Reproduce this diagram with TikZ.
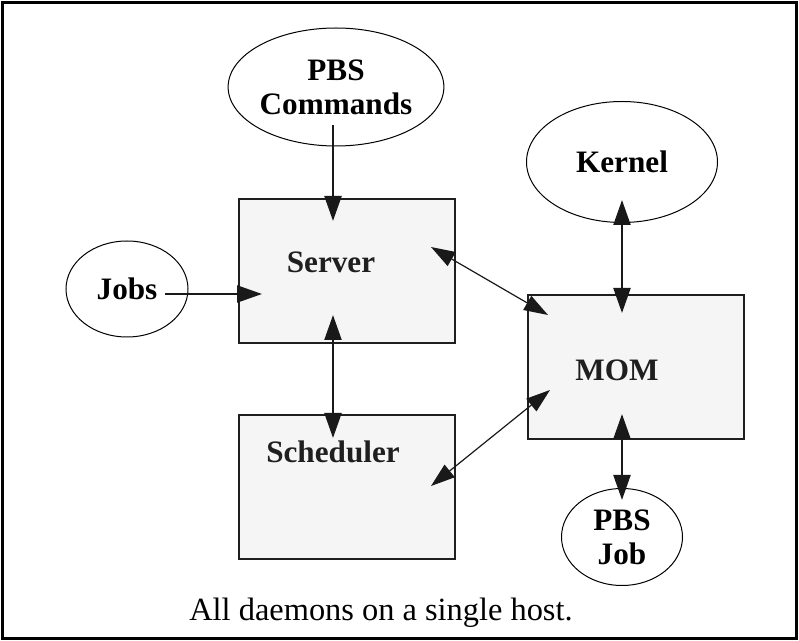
\documentclass[tikz,border=0pt]{standalone}
\usepackage{fontspec}
\setmainfont{Liberation Serif}
\usetikzlibrary{arrows.meta, shapes.geometric, positioning}

\begin{document}
\begin{tikzpicture}[x=0.5pt, y=-0.5pt,
  daemon/.style={draw=black!88, line width=1pt, fill=black!4, minimum width=108pt, minimum height=72pt, inner sep=0pt, anchor=north west},
  entity/.style={ellipse, draw, line width=0.5pt, inner sep=0pt, align=center, font=\fontsize{15.6}{17}\selectfont\bfseries},
  lbl/.style={font=\fontsize{15.6}{17}\selectfont\bfseries, text=black!88, inner sep=0pt},
  arr/.style={line width=1.1pt, draw=black!90, -{Triangle[length=12.5pt, width=8.5pt]}},
  biarr/.style={line width=1.1pt, draw=black!90, {Triangle[length=12.5pt, width=8.5pt]}-{Triangle[length=12.5pt, width=8.5pt]}},
  thinarr/.style={line width=0.6pt, draw=black!90, {Triangle[length=12pt, width=8pt]}-{Triangle[length=12pt, width=8pt]}}]
\useasboundingbox (0,0) rectangle (799,641);

% Host frame
\draw[line width=1.5pt] (2,3) rectangle (796,639);

% Daemons
\node[daemon] (server) at (238,198) {};
\node[daemon] (sched) at (238,414) {};
\node[daemon] (mom) at (527,294) {};
\node[lbl] (servertext) at (331,262) {Server};
\node[lbl] (schedtext) at (333,452) {Scheduler};
\node[lbl] (momtext) at (617,370) {MOM};

% Outside entities
\node[entity, minimum width=96.5pt, minimum height=59pt] (cmds) at (336,87) {PBS\\Commands};
\node[entity, minimum width=61pt, minimum height=48pt] (jobs) at (127,289) {Jobs};
\node[entity, minimum width=95.5pt, minimum height=60.5pt] (kernel) at (622,162) {Kernel};
\node[entity, minimum width=60.5pt, minimum height=48.5pt] (pbsjob) at (622,537) {PBS\\Job};

% Connector ends
\coordinate (cmdsout) at (333,125);
\coordinate (serverin) at (333,221);
\coordinate (jobsout) at (165,294);
\coordinate (serverleft) at (262,294);
\coordinate (serverlow) at (333,315);
\coordinate (schedtop) at (333,438);
\coordinate (serverright) at (431,247);
\coordinate (momleft) at (548,315);
\coordinate (schedright) at (431,486);
\coordinate (momlow) at (550,390);
\coordinate (kernelout) at (622,200);
\coordinate (momtop) at (622,313);
\coordinate (mombottom) at (622,414);
\coordinate (pbsjobin) at (622,500);

\draw[arr] (cmdsout) -- (serverin);
\draw[arr] (jobsout) -- (serverleft);
\draw[biarr] (serverlow) -- (schedtop);
\draw[thinarr] (serverright) -- (momleft);
\draw[thinarr] (schedright) -- (momlow);
\draw[biarr] (kernelout) -- (momtop);
\draw[biarr] (mombottom) -- (pbsjobin);

% Caption
\node[font=\fontsize{16.2}{18}\selectfont, inner sep=0pt] (caption) at (381,613) {All daemons on a single host.};
\end{tikzpicture}
\end{document}
